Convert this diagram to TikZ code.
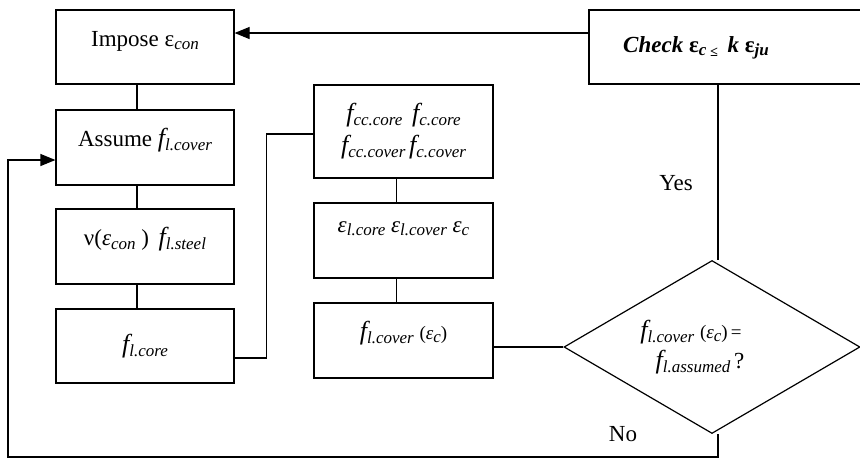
\documentclass[tikz,border=0pt]{standalone}
\usepackage{fontspec}
\setmainfont{Liberation Serif}
\usepackage{tikz}
\usetikzlibrary{shapes.geometric, arrows.meta, positioning, calc}

\newcommand{\sbs}[1]{\raisebox{-0.35ex}{\fontsize{17}{17}\selectfont\itshape #1}}
\newcommand{\fit}{{\fontsize{26}{26}\selectfont\itshape f}}

\begin{document}
\begin{tikzpicture}[
                x=1pt, y=-1pt,
                box/.style={draw, line width=1.2pt, minimum width=178pt, minimum height=74pt, inner sep=0pt, align=center, font=\fontsize{23}{30}\selectfont},
                topbox/.style={box, text height=36pt, text depth=38pt},
                decide/.style={draw, diamond, line width=1.2pt, minimum width=296pt, minimum height=173pt, inner sep=0pt, aspect=1.7, align=center, font=\fontsize{23}{30}\selectfont},
                arr/.style={-{Triangle[length=15pt, width=12pt]}, line width=1.2pt},
                lnk/.style={line width=1.2pt}
            ]
                \useasboundingbox (0,0) rectangle (860,459);
                \node[topbox] (impose) at (145, 47) {Impose ε\sbs{con}};
                \node[topbox, minimum height=75pt] (assume) at (145, 147.5) {Assume \fit\sbs{l.cover}};
                \node[topbox, minimum height=75pt] (nu) at (145, 246.5) {ν(\textit{ε}\sbs{con} )\, \fit\sbs{l.steel}};
                \node[box] (fcore) at (145, 346) {\fit\sbs{l.core}};
                \node[box, minimum width=179pt, minimum height=93pt] (fcc) at (403.5, 131.5) {\fit\sbs{cc.core}\, \fit\sbs{c.core}\\[2pt]\fit\sbs{cc.cover}\,\fit\sbs{c.cover}};
                \node[topbox, minimum width=179pt, minimum height=75pt, text height=29pt, text depth=46pt] (eps) at (403.5, 240.5) {\textit{ε}\sbs{l.core} \textit{ε}\sbs{l.cover} \textit{ε}\sbs{c}};
                \node[topbox, minimum width=179pt, minimum height=75pt] (fcover) at (403.5, 340.5) {\fit\sbs{l.cover} {\fontsize{19}{19}\selectfont(\textit{ε}\sbs{c})}};
                \node[box, minimum width=290pt, text height=42pt, text depth=32pt, font=\fontsize{23}{28}\selectfont\bfseries\itshape] (check) at (734, 47) {\hspace*{-76pt}Check {\upshape ε}\sbs{c}\,\raisebox{-0.4ex}{\fontsize{14}{14}\selectfont ≤}\, k {\upshape ε}\sbs{ju}};
                \node[decide] (equal) at (712, 347) {\fit\sbs{l.cover} {\fontsize{19}{19}\selectfont(\textit{ε}\sbs{c})\,=}\hspace*{42pt}\\\fit\sbs{l.assumed}\,?\hspace*{24pt}};
                \node[font=\fontsize{23}{26}\selectfont] (yes) at (676, 183) {Yes};
                \node[font=\fontsize{23}{26}\selectfont] (no) at (623, 434) {No};
                \coordinate (back) at (8, 457);

                \draw[lnk] ([xshift=-8pt]impose.south) -- ([xshift=-8pt]assume.north);
                \draw[lnk] ([xshift=-8pt]assume.south) -- ([xshift=-8pt]nu.north);
                \draw[lnk] ([xshift=-8pt]nu.south) -- ([xshift=-8pt]fcore.north);
                \draw[lnk] ([yshift=-12pt]fcore.east) -- ++(32,0) |- ([yshift=-2.5pt]fcc.west);
                \draw[lnk] ([xshift=-7pt]fcc.south) -- ([xshift=-7pt]eps.north);
                \draw[lnk] ([xshift=-7pt]eps.south) -- ([xshift=-7pt]fcover.north);
                \draw[lnk] (equal.west -| fcover.east) -- (equal.west);
                \draw[lnk] ([xshift=6pt]equal.north) -- ([xshift=6pt]equal.north |- check.south);
                \draw[arr] ([yshift=14pt]check.west) -- ([yshift=14pt]impose.east);
                \draw[arr] ([xshift=6pt]equal.south) |- (back) |- ([yshift=-12.5pt]assume.west);
            \end{tikzpicture}
\end{document}
